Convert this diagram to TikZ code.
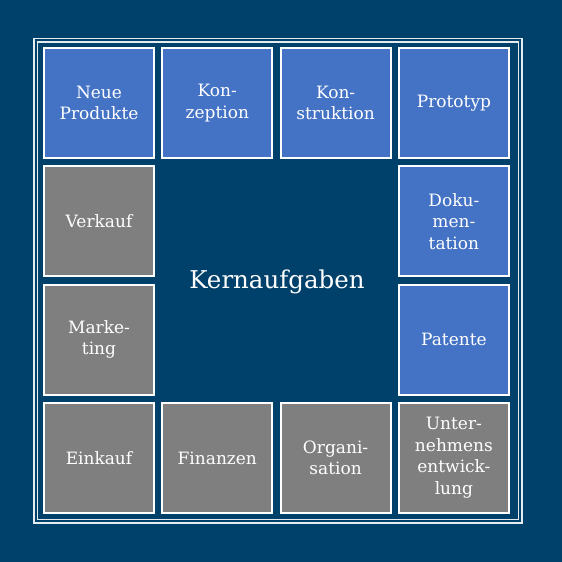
\documentclass[tikz,border=0pt]{standalone}
\usepackage{fontspec}
\setmainfont{DejaVu Serif}
\definecolor{kbg}{HTML}{00416B}
\definecolor{kblue}{HTML}{4472C4}
\definecolor{kgray}{HTML}{7F7F7F}
\tikzset{
  kbox/.style={draw=white, line width=1.8pt, minimum size=110pt, inner sep=2pt,
    align=center, text=white, font=\fontsize{17}{21.5}\selectfont},
  kframe/.style={draw=white!90!kbg, line width=1.4pt}
}

\begin{document}
\begin{tikzpicture}[x=1pt, y=-1pt]
    \fill[kbg] (0,0) rectangle (562,562);
    \useasboundingbox (0,0) rectangle (562,562);
    \draw[kframe] (34,38.5) rectangle (522,523);
    \draw[kframe] (37.5,42) rectangle (518.5,519.5);
    \foreach \col/\row/\name/\fillc/\txt in {
        0/0/neue/kblue/{Neue\\Produkte},
        1/0/konzeption/kblue/{Kon-\\zeption},
        2/0/konstruktion/kblue/{Kon-\\struktion},
        3/0/prototyp/kblue/{Prototyp},
        3/1/doku/kblue/{Doku-\\men-\\tation},
        3/2/patente/kblue/{Patente},
        0/1/verkauf/kgray/{Verkauf},
        0/2/marketing/kgray/{Marke-\\ting},
        0/3/einkauf/kgray/{Einkauf},
        1/3/finanzen/kgray/{Finanzen},
        2/3/organisation/kgray/{Organi-\\sation},
        3/3/entwicklung/kgray/{Unter-\\nehmens\\entwick-\\lung}}
      \node[kbox, fill=\fillc] (\name) at (99+\col*118.3, 103+\row*118.3) {\txt};
    \node[text=white, font=\fontsize{24.5}{28}\selectfont] (kern) at (277,282) {Kernaufgaben};
\end{tikzpicture}
\end{document}
